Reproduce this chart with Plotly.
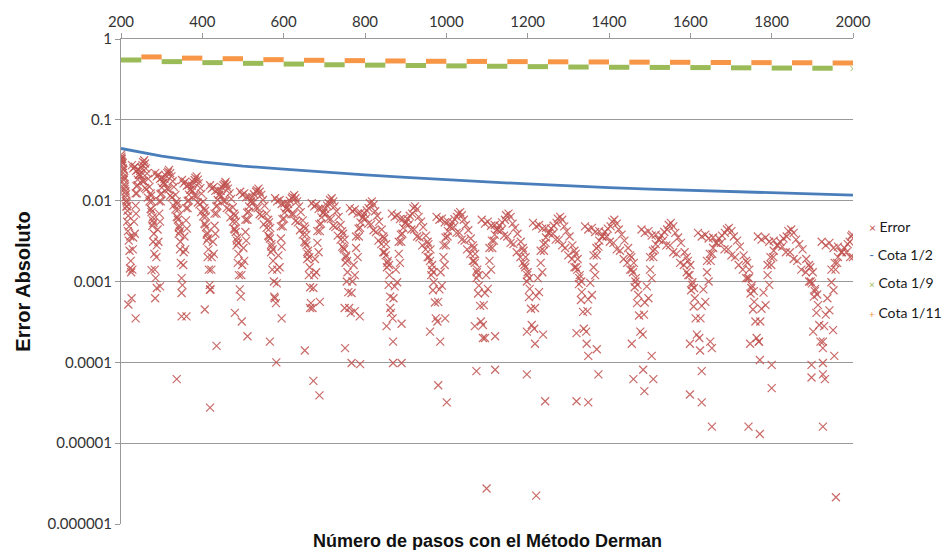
import plotly.graph_objects as go

# ---------------------------------------------------------------------------
# Absolute error of the Derman method versus number of steps (log scale).
# Points are grouped by oscillation arc; each arc lists its upper band,
# its second (interleaved) band and the scatter near the zero crossings.
# ---------------------------------------------------------------------------
err_n = [
    # arc ending near n=227
    200, 202, 204, 206, 208, 210, 212, 214, 216, 201, 203, 205, 207, 209, 211, 213,
    215, 217, 218, 219, 220, 221, 223, 224, 225,
    # arc 227-284
    227, 234, 241, 249, 256, 262, 270, 275, 280, 236, 241, 247, 253, 257, 261, 267, 274,
    273, 274, 276, 277, 278, 279, 281, 282, 283, 228, 229, 230, 232, 234, 236, 237, 239, 241,
    # arc 284-350
    284, 292, 300, 309, 317, 325, 334, 340, 345, 294, 300, 307, 314, 318, 324, 330, 338,
    337, 339, 341, 342, 343, 345, 346, 347, 349, 285, 287, 288, 290, 292, 294, 296, 298, 300,
    # arc 350-419
    350, 358, 367, 376, 385, 393, 402, 409, 414, 360, 367, 374, 381, 386, 391, 398, 407,
    405, 407, 409, 411, 412, 413, 415, 416, 418, 351, 353, 354, 356, 358, 360, 362, 364, 367,
    # arc 419-493
    419, 428, 438, 447, 456, 465, 475, 482, 488, 430, 438, 445, 452, 457, 463, 471, 480,
    478, 480, 483, 484, 486, 487, 489, 490, 492, 420, 422, 423, 426, 428, 430, 432, 435, 437,
    # arc 493-579
    493, 503, 515, 526, 536, 546, 558, 566, 573, 506, 515, 523, 532, 538, 545, 553, 564,
    562, 564, 567, 569, 570, 572, 574, 576, 577, 495, 496, 498, 501, 503, 506, 508, 511, 514,
    # arc 579-669
    579, 590, 602, 613, 624, 635, 647, 656, 663, 593, 602, 611, 620, 626, 633, 642, 653,
    651, 654, 656, 658, 660, 662, 664, 665, 667, 581, 583, 584, 587, 590, 593, 595, 598, 601,
    # arc 669-763
    669, 680, 693, 705, 716, 727, 740, 749, 756, 683, 693, 702, 711, 718, 725, 735, 746,
    744, 747, 750, 752, 754, 755, 757, 759, 761, 671, 673, 675, 677, 680, 683, 686, 689, 692,
    # arc 763-866
    763, 775, 789, 802, 815, 827, 840, 851, 859, 778, 789, 799, 809, 817, 825, 835, 847,
    845, 848, 852, 854, 856, 858, 860, 862, 864, 765, 767, 769, 772, 775, 778, 782, 785, 788,
    # arc 866-976
    866, 879, 894, 908, 921, 934, 949, 960, 968, 883, 894, 905, 916, 923, 932, 943, 956,
    954, 957, 961, 963, 965, 967, 969, 972, 974, 868, 870, 873, 876, 879, 883, 886, 889, 892,
    # arc 976-1087
    976, 989, 1004, 1018, 1032, 1045, 1059, 1070, 1079, 993, 1004, 1015, 1026, 1034, 1043, 1054, 1067,
    1065, 1068, 1071, 1074, 1076, 1078, 1080, 1083, 1085, 978, 980, 983, 986, 989, 993, 996, 999, 1003,
    # arc 1087-1213
    1087, 1102, 1119, 1135, 1150, 1165, 1182, 1194, 1204, 1106, 1119, 1131, 1144, 1153, 1163, 1175, 1190,
    1188, 1192, 1195, 1198, 1200, 1203, 1205, 1208, 1210, 1090, 1092, 1095, 1098, 1102, 1106, 1110, 1113, 1117,
    # arc 1213-1341
    1213, 1228, 1245, 1262, 1277, 1292, 1309, 1322, 1332, 1232, 1245, 1258, 1271, 1280, 1290, 1303, 1318,
    1315, 1319, 1323, 1326, 1328, 1331, 1333, 1336, 1338, 1216, 1218, 1221, 1225, 1228, 1232, 1236, 1240, 1244,
    # arc 1341-1480
    1341, 1358, 1376, 1394, 1411, 1427, 1445, 1459, 1470, 1362, 1376, 1390, 1404, 1413, 1424, 1438, 1455,
    1452, 1456, 1461, 1463, 1466, 1469, 1472, 1474, 1477, 1344, 1347, 1349, 1354, 1358, 1362, 1366, 1370, 1374,
    # arc 1480-1619
    1480, 1497, 1515, 1533, 1550, 1566, 1584, 1598, 1609, 1501, 1515, 1529, 1543, 1552, 1563, 1577, 1594,
    1591, 1595, 1600, 1602, 1605, 1608, 1611, 1613, 1616, 1483, 1486, 1488, 1493, 1497, 1501, 1505, 1509, 1513,
    # arc 1619-1766
    1619, 1637, 1656, 1675, 1693, 1710, 1729, 1744, 1756, 1641, 1656, 1670, 1685, 1695, 1707, 1722, 1740,
    1737, 1741, 1745, 1748, 1751, 1754, 1757, 1760, 1763, 1622, 1625, 1628, 1632, 1637, 1641, 1645, 1650, 1654,
    # arc 1766-1923
    1766, 1785, 1805, 1826, 1845, 1863, 1884, 1899, 1912, 1790, 1805, 1821, 1837, 1848, 1860, 1876, 1895,
    1892, 1896, 1901, 1904, 1907, 1910, 1914, 1917, 1920, 1769, 1772, 1775, 1780, 1785, 1790, 1794, 1799, 1804,
    # arc from 1923
    1923, 1942, 1963, 1984, 2000, 1947, 1963, 1979, 1992, 1998,
    1926, 1929, 1933, 1937, 1942, 1947, 1952, 1957, 1961,
    # isolated small errors
    222, 226, 218, 236, 275, 288, 296, 284, 337, 349, 349, 361, 406, 419, 419, 435, 480, 497, 511, 566, 582, 578, 595,
    652, 673, 688, 665, 689, 751, 767, 788, 750, 775, 787, 853, 869, 862, 890, 869, 890, 980, 1001, 960, 985, 997, 1074, 1070, 1090,
    1120, 1095, 1120, 1198, 1243, 1218, 1238, 1198, 1320, 1349, 1349, 1370, 1374, 1320, 1345, 1456, 1460, 1484, 1509, 1487, 1505,
    1599, 1628, 1628, 1653, 1599, 1624, 1653, 1649, 1743, 1771, 1771, 1800, 1800, 1747, 1768, 1898, 1898, 1926, 1926, 1926, 1954, 1902, 1926, 1951, 1931,
    1099, 1221, 1958,
]

err_v = [
    # arc ending near n=227
    .037, .033, .029, .024, .019, .015, .012, .0095, .0075, .031, .027, .022, .018, .014, .011, .0085,
    .0055, .0042, .0065, .0032, .0048, .0024, .0036, .0018, .0013,
    # arc 227-284
    .0275, .0263, .024, .0204, .0174, .0138, .0098, .0072, .0053, .0123, .0182, .0234, .0275, .0316, .0251, .0186, .0115,
    .0123, .0078, .0098, .0049, .0062, .0031, .0039, .0022, .0014, .0014, .0025, .0035, .0055, .0039, .0087, .0069, .0123, .0155,
    # arc 284-350
    .0219, .0209, .0191, .0162, .0138, .011, .0078, .0058, .0042, .0098, .0145, .0186, .0219, .024, .02, .0148, .0091,
    .0098, .0062, .0078, .0039, .0049, .0025, .0031, .0017, .0011, .0011, .0020, .0028, .0044, .0031, .0069, .0055, .0098, .0123,
    # arc 350-419
    .018, .0172, .0157, .0133, .0114, .009, .0064, .0047, .0034, .0081, .0119, .0153, .018, .020, .0164, .0122, .0075,
    .0081, .0051, .0064, .0032, .0040, .0020, .0025, .0014, .0009, .0009, .0016, .0023, .0036, .0025, .0057, .0045, .0081, .0101,
    # arc 419-493
    .0155, .0148, .0135, .0115, .0098, .0078, .0055, .0041, .0030, .0069, .0102, .0132, .0155, .017, .0141, .0105, .0065,
    .0069, .0044, .0055, .0028, .0035, .0017, .0022, .0012, .0008, .0008, .0014, .0020, .0031, .0022, .0049, .0039, .0069, .0087,
    # arc 493-579
    .0129, .0123, .0112, .0096, .0081, .0065, .0046, .0034, .0025, .0058, .0085, .011, .0129, .0141, .0118, .0087, .0054,
    .0058, .0036, .0046, .0023, .0029, .0014, .0018, .0010, .00065, .00065, .0012, .0016, .0026, .0018, .0041, .0032, .0058, .0073,
    # arc 579-669
    .0107, .0102, .0093, .0079, .0068, .0054, .0038, .0028, .0020, .0048, .0071, .0091, .0107, .0117, .0098, .0072, .0045,
    .0048, .0030, .0038, .0019, .0024, .0012, .0015, .00085, .00054, .00054, .00095, .0014, .0021, .0015, .0034, .0027, .0048, .0060,
    # arc 669-763
    .0093, .0089, .0081, .0069, .0059, .0047, .0033, .0025, .0018, .0042, .0062, .0079, .0093, .0107, .0085, .0063, .0039,
    .0042, .0026, .0033, .0017, .0021, .0010, .0013, .00074, .00047, .00047, .00083, .0012, .0019, .0013, .0030, .0023, .0042, .0052,
    # arc 763-866
    .0081, .0078, .0071, .0060, .0051, .0041, .0029, .0021, .0016, .0036, .0054, .0069, .0081, .0098, .0074, .0055, .0034,
    .0036, .0023, .0029, .0015, .0018, .00091, .0012, .00065, .00041, .00041, .00072, .0010, .0016, .0012, .0026, .0020, .0036, .0046,
    # arc 866-976
    .0069, .0066, .0060, .0051, .0044, .0035, .0025, .0018, .0013, .0031, .0046, .0059, .0069, .0085, .0063, .0047, .0029,
    .0031, .0020, .0025, .0012, .0016, .00078, .00098, .00055, .00035, .00035, .00062, .00087, .0014, .00098, .0022, .0017, .0031, .0039,
    # arc 976-1087
    .0063, .0060, .0055, .0047, .0040, .0032, .0022, .0017, .0012, .0028, .0042, .0054, .0063, .0072, .0058, .0043, .0026,
    .0028, .0018, .0022, .0011, .0014, .00071, .00089, .0005, .00032, .00032, .00056, .0008, .0013, .00089, .0020, .0016, .0028, .0036,
    # arc 1087-1213
    .0058, .0055, .0050, .0043, .0036, .0029, .0020, .0015, .0011, .0026, .0038, .0049, .0058, .0069, .0052, .0039, .0024,
    .0026, .0016, .0020, .0010, .0013, .00064, .00081, .00046, .00029, .00029, .00051, .00072, .0012, .00081, .0018, .0014, .0026, .0032,
    # arc 1213-1341
    .0053, .0050, .0046, .0039, .0033, .0026, .0019, .0014, .0010, .0024, .0035, .0045, .0053, .0063, .0048, .0036, .0022,
    .0024, .0015, .0019, .00093, .0012, .00059, .00074, .00042, .00026, .00026, .00047, .00066, .0011, .00074, .0017, .0013, .0024, .0030,
    # arc 1341-1480
    .0048, .0046, .0042, .0036, .0030, .0024, .0017, .0013, .00091, .0021, .0032, .0041, .0048, .0058, .0044, .0032, .0020,
    .0021, .0014, .0017, .00085, .0011, .00054, .00068, .00038, .00024, .00024, .00043, .0006, .00096, .00068, .0015, .0012, .0021, .0027,
    # arc 1480-1619
    .0044, .0042, .0038, .0032, .0028, .0022, .0016, .0012, .00083, .0020, .0029, .0037, .0044, .0053, .0040, .0030, .0018,
    .0020, .0012, .0016, .00078, .00098, .00049, .00062, .00035, .00022, .00022, .00039, .00055, .00087, .00062, .0014, .0011, .0020, .0025,
    # arc 1619-1766
    .0040, .0038, .0035, .0030, .0025, .0020, .0014, .0011, .00076, .0018, .0026, .0034, .0040, .0046, .0036, .0027, .0017,
    .0018, .0011, .0014, .00071, .00089, .00045, .00056, .00032, .0002, .0002, .00035, .0005, .0008, .00056, .0013, .0010, .0018, .0022,
    # arc 1766-1923
    .0036, .0035, .0032, .0027, .0023, .0018, .0013, .00095, .00069, .0016, .0024, .0031, .0036, .0044, .0033, .0025, .0015,
    .0016, .0010, .0013, .00065, .00081, .00041, .00051, .00029, .00018, .00018, .00032, .00046, .00073, .00051, .0012, .00091, .0016, .0020,
    # arc from 1923
    .0031, .0030, .0027, .0023, .0020, .0014, .0020, .0026, .0031, .0038,
    .00015, .00028, .00039, .00062, .00044, .00098, .00078, .0014, .0017,
    # isolated small errors
    .00145, .00062, .00052, .00035, .00138, .00083, .00087, .00062, .000062, .00072, .00037, .00037, .00045, .00079, .0000275, .00016, .00041, .00032, .00021, .00018, .0001, .00062, .00035,
    .00014, .000059, .000039, .00047, .00056, .00015, .000098, .000095, .00047, .00043, .00037, .00028, .00018, .00047, .0003, .000098, .000098, .000052, .000032, .00024, .00018, .00035, .000078, .00028, .0002,
    .000081, .0002, .00021, .000071, .000033, .00017, .00022, .00024, .000033, .000032, .00012, .000145, .000071, .00023, .00017, .00017, .000062, .000081, .000062, .000044, .00012,
    .00004, .000032, .000078, .000016, .00017, .00014, .00015, .00018, .000016, .000013, .000107, .000093, .000048, .00017, .00018, .000093, .000065, .000098, .000071, .000016, .00012, .00024, .00018, .00025, .000062,
    .00000275, .00000224, .00000214,
]

# Additional points filling the two bands of each arc
err_mid_n = [
    200, 201, 203, 205, 207, 209, 211, 213, 215,
    230, 237, 245, 252, 259, 266, 273, 278, 238, 244, 250, 254, 259, 264, 270,
    288, 296, 304, 313, 321, 329, 337, 343, 297, 304, 310, 316, 321, 327, 334,
    354, 362, 371, 380, 389, 397, 405, 411, 364, 371, 378, 383, 389, 395, 402,
    423, 432, 442, 452, 460, 469, 478, 485, 434, 441, 449, 455, 460, 467, 475,
    498, 508, 520, 531, 541, 551, 562, 570, 510, 519, 527, 534, 541, 549, 558,
    584, 595, 607, 619, 629, 640, 651, 659, 597, 606, 615, 622, 629, 638, 647,
    675, 686, 698, 710, 722, 733, 744, 753, 688, 697, 707, 714, 722, 730, 740,
    769, 782, 795, 808, 821, 833, 845, 855, 784, 794, 804, 812, 821, 830, 841,
    873, 886, 900, 914, 928, 941, 954, 964, 888, 899, 910, 919, 928, 938, 950,
    983, 996, 1010, 1025, 1038, 1051, 1065, 1075, 998, 1009, 1020, 1029, 1038, 1048, 1060,
    1095, 1110, 1126, 1142, 1158, 1173, 1188, 1199, 1112, 1125, 1137, 1147, 1158, 1169, 1183,
    1221, 1236, 1253, 1269, 1285, 1300, 1315, 1327, 1239, 1251, 1264, 1274, 1285, 1296, 1310,
    1349, 1366, 1384, 1402, 1419, 1436, 1452, 1465, 1369, 1383, 1397, 1408, 1419, 1431, 1447,
    1488, 1505, 1523, 1541, 1558, 1575, 1591, 1604, 1508, 1522, 1536, 1547, 1558, 1570, 1586,
    1628, 1645, 1665, 1684, 1701, 1719, 1737, 1750, 1648, 1663, 1678, 1690, 1701, 1715, 1731,
    1775, 1794, 1815, 1835, 1854, 1873, 1892, 1906, 1797, 1813, 1829, 1841, 1854, 1868, 1885,
    1933, 1952, 1973, 1993, 1955, 1971, 1987, 1996,
]
err_mid_v = [
    .033, .035, .030, .025, .020, .016, .013, .010, .0085,
    .0251, .0234, .0209, .0175, .0144, .0109, .0079, .0057, .0151, .0209, .0257, .0301, .0288, .0218, .0148,
    .020, .0186, .0166, .014, .0115, .0087, .0063, .0046, .012, .0166, .0204, .0229, .0219, .0174, .0118,
    .0164, .0153, .0137, .0115, .0095, .0072, .0052, .0038, .0099, .0137, .0168, .0191, .0182, .0143, .0097,
    .0141, .0132, .0118, .0099, .0081, .0062, .0045, .0032, .0085, .0118, .0145, .0162, .0155, .0123, .0083,
    .0118, .011, .0098, .0082, .0068, .0051, .0037, .0027, .0071, .0098, .012, .0135, .0129, .0102, .0069,
    .0098, .0091, .0081, .0068, .0056, .0043, .0031, .0022, .0059, .0081, .010, .0112, .0107, .0085, .0057,
    .0085, .0079, .0071, .006, .0049, .0037, .0027, .002, .0051, .0071, .0087, .0102, .0098, .0074, .005,
    .0074, .0069, .0062, .0052, .0043, .0032, .0023, .0017, .0045, .0062, .0076, .0093, .0089, .0065, .0044,
    .0063, .0059, .0053, .0044, .0036, .0028, .002, .0014, .0038, .0053, .0065, .0081, .0078, .0055, .0037,
    .0058, .0054, .0048, .004, .0033, .0025, .0018, .0013, .0035, .0048, .0059, .0069, .0066, .005, .0034,
    .0052, .0049, .0044, .0037, .003, .0023, .0017, .0012, .0032, .0044, .0054, .0066, .0063, .0046, .0031,
    .0048, .0045, .004, .0033, .0028, .0021, .0015, .0011, .0029, .004, .0049, .006, .0058, .0042, .0028,
    .0044, .0041, .0036, .0031, .0025, .0019, .0014, .001, .0026, .0036, .0045, .0055, .0052, .0038, .0026,
    .004, .0037, .0033, .0028, .0023, .0017, .0013, .00091, .0024, .0033, .0041, .005, .0048, .0035, .0023,
    .0036, .0034, .003, .0025, .0021, .0016, .0011, .00083, .0022, .003, .0037, .0044, .0042, .0032, .0021,
    .0033, .0031, .0028, .0023, .0019, .0014, .001, .00076, .002, .0028, .0034, .0042, .004, .0029, .0019,
    .0028, .0026, .0023, .002, .0017, .0023, .0029, .0036,
]
assert len(err_n) == len(err_v), (len(err_n), len(err_v))
assert len(err_mid_n) == len(err_mid_v), (len(err_mid_n), len(err_mid_v))

# Bound 1/2
cota2_n = [200, 300, 400, 500, 600, 700, 800, 900, 1000, 1100, 1200, 1300, 1400, 1500,
           1600, 1700, 1800, 1900, 2000]
cota2_v = [0.0442, 0.0356, 0.0302, 0.0268, 0.0245, 0.0225, 0.0208, 0.0194, 0.0181, 0.0171,
           0.0161, 0.0152, 0.0145, 0.0139, 0.0134, 0.0129, 0.0125, 0.0121, 0.0117]

# Bound 1/9: blocks of 50 steps (start of each block and its level)
cota9_start = [200, 300, 400, 500, 600, 700, 800, 900, 1000, 1100, 1200, 1300, 1400,
               1500, 1600, 1700, 1800, 1900]
cota9_v = [0.55, 0.525, 0.51, 0.50, 0.49, 0.48, 0.475, 0.47, 0.465, 0.46, 0.455, 0.45,
           0.447, 0.445, 0.443, 0.44, 0.437, 0.435]
cota9_last_n = [2000]
cota9_last_v = [0.43]

# Bound 1/11: blocks of 50 steps
cota11_start = [250, 350, 450, 550, 650, 750, 850, 950, 1050, 1150, 1250, 1350, 1450,
                1550, 1650, 1750, 1850, 1950]
cota11_v = [0.60, 0.58, 0.57, 0.555, 0.545, 0.54, 0.535, 0.53, 0.528, 0.525, 0.522, 0.52,
            0.517, 0.515, 0.512, 0.51, 0.508, 0.505]
block_len = 50

x_ticks = [200, 400, 600, 800, 1000, 1200, 1400, 1600, 1800, 2000]
y_ticks = [1, 0.1, 0.01, 0.001, 0.0001, 0.00001, 0.000001]
y_ticktext = ["1", "0.1", "0.01", "0.001", "0.0001", "0.00001", "0.000001"]

series_names = ["Error", "Cota 1/2", "Cota 1/9", "Cota 1/11"]

RED = "rgba(192,80,77,0.85)"
RED_SOLID = "#C0504D"
BLUE = "#4A7EBB"
GREEN = "#9BBB59"
ORANGE = "#F79646"
AXIS_GRAY = "#9A9A9A"
BASE_FONT = "Lato, 'Open Sans', sans-serif"
TICK_FONT = dict(family=BASE_FONT, size=15, color="#333333")


def blocks(starts, levels, length):
    xs, ys = [], []
    for s, v in zip(starts, levels):
        xs += [s, s + length, None]
        ys += [v, v, None]
    return xs, ys


fig = go.Figure()

fig.add_trace(go.Scatter(
    x=err_n + err_mid_n, y=err_v + err_mid_v, mode="markers", name=series_names[0],
    marker=dict(symbol="x-thin", size=8, color=RED, line=dict(width=1.2, color=RED)),
))

fig.add_trace(go.Scatter(
    x=cota2_n, y=cota2_v, mode="lines", name=series_names[1],
    line=dict(color=BLUE, width=2.8),
))

x9, y9 = blocks(cota9_start, cota9_v, block_len)
fig.add_trace(go.Scatter(
    x=x9, y=y9, mode="lines", name=series_names[2], line=dict(color=GREEN, width=5),
))
fig.add_trace(go.Scatter(
    x=cota9_last_n, y=cota9_last_v, mode="markers", name=series_names[2],
    marker=dict(symbol="x-thin", size=5, color=GREEN, line=dict(width=1, color=GREEN)),
))

x11, y11 = blocks(cota11_start, cota11_v, block_len)
fig.add_trace(go.Scatter(
    x=x11, y=y11, mode="lines", name=series_names[3], line=dict(color=ORANGE, width=5),
))

# Compact legend: small coloured glyph followed by the series name
legend_glyphs = [
    ("×", RED_SOLID, 12),
    ("-", BLUE, 14),
    ("×", GREEN, 10),
    ("+", ORANGE, 10),
]
legend_y = [0.614, 0.555, 0.497, 0.437]
annotations = []
for name, (glyph, color, gsize), ly in zip(series_names, legend_glyphs, legend_y):
    annotations.append(dict(
        text=f"<span style='color:{color};font-size:{gsize}px'>{glyph}</span> {name}",
        xref="paper", yref="paper", x=1.019, y=ly, xanchor="left", yanchor="middle",
        showarrow=False, font=dict(family=BASE_FONT, size=14, color="#1a1a1a"),
    ))

annotations += [
    dict(text="<b>Número de pasos con el Método Derman</b>", xref="paper", yref="paper",
         x=0.5, y=-0.035, xanchor="center", yanchor="middle", showarrow=False,
         font=dict(family="'Liberation Sans', Arial, sans-serif", size=18, color="#111111")),
    dict(text="<b>Error Absoluto</b>", xref="paper", yref="paper",
         x=-0.135, y=0.5, xanchor="center", yanchor="middle", textangle=-90,
         showarrow=False,
         font=dict(family="'Liberation Sans', Arial, sans-serif", size=20, color="#111111")),
]

fig.update_layout(
    width=942, height=550,
    margin=dict(l=121, r=89, t=39, b=26),
    paper_bgcolor="white", plot_bgcolor="white",
    showlegend=False,
    xaxis=dict(
        side="top", range=[200, 2000], tickmode="array", tickvals=x_ticks,
        ticks="outside", ticklen=5, tickcolor=AXIS_GRAY, showline=True,
        linecolor=AXIS_GRAY, linewidth=1, showgrid=False, zeroline=False,
        tickfont=TICK_FONT,
    ),
    yaxis=dict(
        type="log", range=[-6, 0], tickmode="array", tickvals=y_ticks,
        ticktext=y_ticktext, ticks="outside", ticklen=5, tickcolor=AXIS_GRAY,
        showline=True, linecolor=AXIS_GRAY, linewidth=1, showgrid=True,
        gridcolor=AXIS_GRAY, gridwidth=1, zeroline=False, tickfont=TICK_FONT,
    ),
    annotations=annotations,
)

fig.write_html("out.html")
